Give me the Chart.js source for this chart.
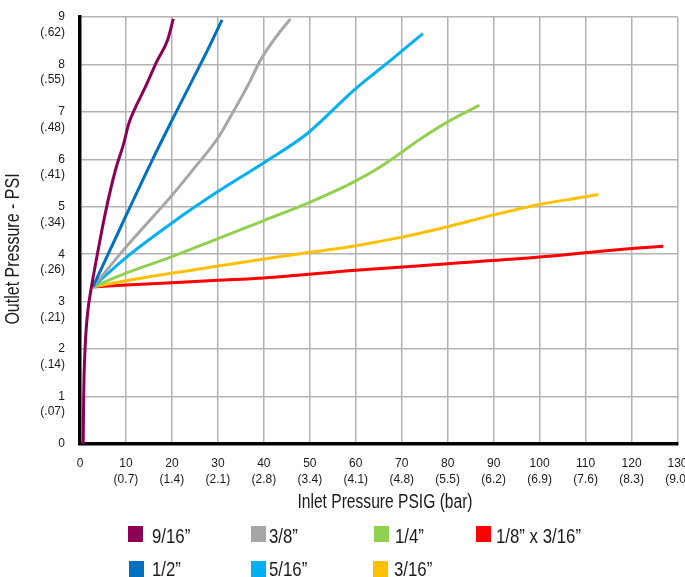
<!DOCTYPE html>
<html><head><meta charset="utf-8">
<script src="https://cdn.jsdelivr.net/npm/chart.js@4"></script>
<style>
html,body{margin:0;padding:0;background:#fff;}
#wrap{position:relative;width:685px;height:577px;overflow:hidden;}
#c{position:absolute;left:0;top:0;}
.lg-box{position:absolute;width:15px;height:15.5px;}
.lg-txt{position:absolute;font-size:21px;line-height:21px;font-family:"Liberation Sans",Arial,sans-serif;color:#1a1a1a;white-space:nowrap;transform:scaleX(0.8);transform-origin:0 0;}
</style></head><body>
<div id="wrap"><canvas id="c" width="685" height="577"></canvas><div id="legend"></div></div>
<script>
// ---- data ----
const seriesNames = ['9/16”', '1/2”', '3/8”', '5/16”', '1/4”', '3/16”', '1/8” x 3/16”'];

const x916 = [0.7, 0.8, 1.1, 1.7, 2.3, 3.3, 5.5, 7.7, 9.5, 10.6, 12.1, 14.2, 16.8, 19.0, 20.3];
const y916 = [0, 1.0, 2.0, 2.8, 3.2, 3.75, 4.86, 5.77, 6.33, 6.75, 7.1, 7.52, 8.08, 8.5, 8.96];

const x12 = [2.8, 6.6, 9.9, 15.7, 20.0, 24.4, 27.7, 30.9];
const y12 = [3.31, 4.1, 4.79, 5.98, 6.82, 7.66, 8.29, 8.94];

const x38 = [2.8, 10.0, 20.0, 25.0, 30.0, 33.1, 36.7, 39.2, 42.9, 45.8];
const y38 = [3.31, 4.15, 5.24, 5.83, 6.45, 6.96, 7.59, 8.08, 8.61, 8.96];

const x516 = [2.8, 10.0, 20.0, 30.0, 40.0, 49.4, 59.5, 67.5, 74.6];
const y516 = [3.31, 3.93, 4.66, 5.32, 5.93, 6.54, 7.45, 8.08, 8.65];

const x14 = [2.8, 10.0, 20.0, 30.0, 40.0, 50.1, 59.5, 65.3, 74.7, 80.0, 86.9];
const y14 = [3.31, 3.6, 3.95, 4.33, 4.71, 5.1, 5.52, 5.84, 6.47, 6.79, 7.14];

const x316 = [2.8, 10.0, 20.0, 30.0, 40.0, 50.0, 60.0, 70.0, 80.0, 90.0, 100.0, 110.0, 112.8];
const y316 = [3.31, 3.44, 3.6, 3.75, 3.9, 4.04, 4.18, 4.36, 4.58, 4.83, 5.05, 5.21, 5.26];

const x18 = [2.8, 10.0, 20.0, 30.0, 40.0, 60.0, 80.0, 100.0, 110.0, 120.0, 126.9];
const y18 = [3.31, 3.35, 3.4, 3.45, 3.5, 3.66, 3.8, 3.94, 4.03, 4.12, 4.17];

const xTickBar = ['', '(0.7)', '(1.4)', '(2.1)', '(2.8)', '(3.4)', '(4.1)', '(4.8)', '(5.5)', '(6.2)', '(6.9)', '(7.6)', '(8.3)', '(9.0)'];
const yTickBar = ['', '(.07)', '(.14)', '(.21)', '(.26)', '(.34)', '(.41)', '(.48)', '(.55)', '(.62)'];

const xTitle = 'Inlet Pressure PSIG (bar)';
const yTitle = 'Outlet Pressure - PSI';

// ---- style ----
const seriesX = [x916, x12, x38, x516, x14, x316, x18];
const seriesY = [y916, y12, y38, y516, y14, y316, y18];
const seriesColors = ['#8B0055', '#0070C0', '#A6A6A6', '#00B0F0', '#92D050', '#FFC000', '#FF0000'];
// legend placement: [boxX, boxY, textX, textY]
const legendPlace = [
  [128, 526, 152, 524.5],
  [129, 561, 152, 558],
  [251, 526, 269, 524.5],
  [251, 561, 269, 558],
  [374, 526, 395, 524.5],
  [373, 561, 394, 558],
  [475.5, 526, 496, 524.5]
];
const FONT = '"Liberation Sans", Arial, sans-serif';
const TXT = '#1a1a1a';

const datasets = seriesNames.map((name, i) => ({
  label: name,
  data: seriesX[i].map((x, j) => ({x: x, y: seriesY[i][j]})),
  borderColor: seriesColors[i],
  backgroundColor: seriesColors[i],
  borderWidth: 3,
  pointRadius: 0,
  showLine: true,
  fill: false,
  cubicInterpolationMode: 'monotone',
  borderCapStyle: 'butt'
}));

const axisTitles = {
  id: 'axisTitles',
  afterDraw(chart) {
    const ctx = chart.ctx, a = chart.chartArea;
    ctx.save();
    ctx.fillStyle = TXT;
    ctx.font = '20px ' + FONT;
    ctx.textAlign = 'center';
    ctx.textBaseline = 'middle';
    ctx.save();
    ctx.translate(a.left + 305, a.bottom + 58);
    ctx.scale(0.78, 1);
    ctx.fillText(xTitle, 0, 0);
    ctx.restore();
    ctx.translate(13, a.top + 232);
    ctx.rotate(-Math.PI / 2);
    ctx.scale(0.8, 1);
    ctx.fillText(yTitle, 0, 0);
    ctx.restore();
  }
};

new Chart(document.getElementById('c'), {
  type: 'scatter',
  data: {datasets: datasets},
  plugins: [axisTitles],
  options: {
    responsive: false,
    animation: false,
    devicePixelRatio: 1,
    layout: {padding: {left: 0, right: 7.5, top: 17, bottom: 73}},
    plugins: {legend: {display: false}, tooltip: {enabled: false}},
    scales: {
      x: {
        type: 'linear', min: 0, max: 130,
        ticks: {
          stepSize: 10, padding: 12, color: TXT,
          font: {family: FONT, size: 12, lineHeight: 1.3},
          maxRotation: 0, autoSkip: false,
          callback: (v, i) => v === 0 ? '0' : [String(v), xTickBar[i]]
        },
        grid: {color: '#B3B3B3', lineWidth: 1.5, drawTicks: false},
        border: {display: true, color: '#000', width: 3.5},
        afterFit(s) { s.height = 60; s.paddingLeft = 0; s.paddingRight = 0; }
      },
      y: {
        type: 'linear', min: 0, max: 9,
        ticks: {
          stepSize: 1, padding: 15, color: TXT,
          font: {family: FONT, size: 12, lineHeight: 1.3},
          autoSkip: false,
          callback: (v, i) => v === 0 ? '0' : ['', String(v), yTickBar[i]]
        },
        grid: {color: '#B3B3B3', lineWidth: 1.5, drawTicks: false},
        border: {display: true, color: '#000', width: 3.5},
        afterFit(s) { s.width = 80; s.paddingTop = 0; s.paddingBottom = 0; }
      }
    }
  }
});

// HTML legend built from the series
const lg = document.getElementById('legend');
seriesNames.forEach((name, i) => {
  const p = legendPlace[i];
  const b = document.createElement('div');
  b.className = 'lg-box';
  b.style.left = p[0] + 'px'; b.style.top = p[1] + 'px';
  b.style.background = seriesColors[i];
  const t = document.createElement('div');
  t.className = 'lg-txt';
  t.style.left = p[2] + 'px'; t.style.top = p[3] + 'px';
  t.textContent = name;
  lg.appendChild(b); lg.appendChild(t);
});
</script>
</body></html>
